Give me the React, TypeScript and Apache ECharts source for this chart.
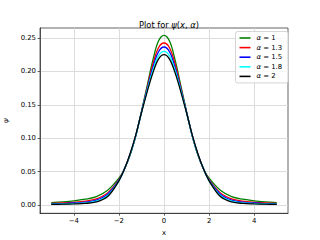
import React, { useEffect, useRef } from "react";
import * as echarts from "echarts";

// x >= 0 half of the symmetric curves
const xHalf = [0, 0.25, 0.5, 0.75, 1, 1.25, 1.5, 1.75, 2, 2.5, 3, 3.5, 4, 4.5, 5];
const alphaLabels = ["1", "1.3", "1.5", "1.8", "2"];
const psiA1 = [0.254, 0.245, 0.216, 0.178, 0.14, 0.104, 0.075, 0.054, 0.04, 0.022, 0.0125, 0.0085, 0.006, 0.0045, 0.0035];
const psiA13 = [0.2425, 0.235, 0.21, 0.175, 0.139, 0.104, 0.076, 0.054, 0.038, 0.018, 0.009, 0.0055, 0.0038, 0.0028, 0.0022];
const psiA15 = [0.2365, 0.229, 0.205, 0.173, 0.139, 0.104, 0.076, 0.054, 0.037, 0.016, 0.0072, 0.0042, 0.0028, 0.002, 0.0015];
const psiA18 = [0.23, 0.223, 0.201, 0.171, 0.138, 0.104, 0.076, 0.054, 0.036, 0.014, 0.0055, 0.003, 0.002, 0.0014, 0.001];
const psiA2 = [0.225, 0.218, 0.197, 0.169, 0.138, 0.105, 0.077, 0.054, 0.036, 0.0125, 0.0045, 0.0022, 0.0015, 0.001, 0.0007];
const xTicks = [-4, -2, 0, 2, 4];
const yTicks = [0, 0.05, 0.1, 0.15, 0.2, 0.25];
const colors = ["#008000", "#ff0000", "#0000ff", "#00ffff", "#000000"];

function fullCurve(vals: number[]): number[][] {
  const pts: number[][] = [];
  for (let i = xHalf.length - 1; i > 0; i--) pts.push([-xHalf[i], vals[i]]);
  for (let i = 0; i < xHalf.length; i++) pts.push([xHalf[i], vals[i]]);
  return pts;
}

const FONT = "DejaVu Sans";

export default function App() {
  const ref = useRef<HTMLDivElement>(null);
  useEffect(() => {
    if (!ref.current) return;
    const chart = echarts.init(ref.current, null, { renderer: "svg" });
    const allVals = [psiA1, psiA13, psiA15, psiA18, psiA2];
    const names = alphaLabels.map((a) => "α = " + a);
    chart.setOption({
      animation: false,
      backgroundColor: "#ffffff",
      textStyle: { fontFamily: FONT },
      title: {
        text: "{n|Plot for }{i|ψ}{n|(}{i|x}{n|, }{i|α}{n|)}",
        left: 164,
        top: 16,
        textAlign: "center",
        textStyle: {
          fontWeight: "normal",
          rich: {
            n: { fontFamily: FONT, fontSize: 8.3, fontWeight: "normal", color: "#000" },
            i: { fontFamily: FONT, fontSize: 8.3, fontWeight: "normal", fontStyle: "italic", color: "#000" },
          },
        },
      },
      legend: {
        orient: "vertical",
        left: 235.5,
        top: 31.5,
        padding: [3, 6, 3, 4],
        itemWidth: 11,
        itemHeight: 1.6,
        itemGap: 2.6,
        icon: "rect",
        borderColor: "#cccccc",
        borderWidth: 0.8,
        borderRadius: 2,
        backgroundColor: "rgba(255,255,255,0.8)",
        data: names,
        formatter: (name: string) => "{i|α}{n| = " + name.split("= ")[1] + "}",
        textStyle: {
          padding: [0, 0, 0, 1],
          rich: {
            n: { fontFamily: FONT, fontSize: 6.9, color: "#000", lineHeight: 7.4 },
            i: { fontFamily: FONT, fontSize: 6.9, fontStyle: "italic", color: "#000", lineHeight: 7.4 },
          },
        },
      },
      grid: {
        left: 40,
        right: 32,
        top: 28,
        bottom: 26.7,
        show: true,
        borderColor: "#222",
        borderWidth: 0.7,
        containLabel: false,
        outerBoundsMode: "none",
      },
      xAxis: {
        type: "value",
        min: -5.5,
        max: 5.5,
        name: "x",
        nameLocation: "middle",
        nameGap: 14,
        nameTextStyle: { fontFamily: FONT, fontSize: 6.9, color: "#000" },
        axisLine: { show: true, onZero: false, lineStyle: { color: "#222", width: 0.7 } },
        axisTick: { show: true, length: 2.4, customValues: xTicks, lineStyle: { color: "#222", width: 0.7 } },
        axisLabel: {
          customValues: xTicks,
          margin: 4,
          fontFamily: FONT,
          fontSize: 6.9,
          color: "#000",
          formatter: (v: number) => String(v).replace("-", "\u2212"),
        },
        splitLine: { show: true, lineStyle: { color: "#d8d8d8", width: 0.9 } },
      },
      yAxis: {
        type: "value",
        min: -0.0126,
        max: 0.265,
        name: "ψ",
        nameLocation: "middle",
        nameGap: 20,
        nameRotate: 90,
        nameTextStyle: { fontFamily: FONT, fontSize: 6.9, color: "#000", fontStyle: "italic" },
        axisLine: { show: true, onZero: false, lineStyle: { color: "#222", width: 0.7 } },
        axisTick: { show: true, length: 2.4, customValues: yTicks, lineStyle: { color: "#222", width: 0.7 } },
        axisLabel: {
          customValues: yTicks,
          margin: 4,
          fontFamily: FONT,
          fontSize: 6.9,
          color: "#000",
          formatter: (v: number) => v.toFixed(2),
        },
        splitLine: { show: true, lineStyle: { color: "#d8d8d8", width: 0.9 } },
      },
      series: allVals.map((vals, i) => ({
        name: names[i],
        type: "line",
        data: fullCurve(vals),
        smooth: 0.35,
        showSymbol: false,
        symbol: "none",
        color: colors[i],
        lineStyle: { color: colors[i], width: 1.3 },
        z: 2 + i,
      })),
    });
    return () => chart.dispose();
  }, []);
  return <div ref={ref} style={{ width: 320, height: 240, position: "absolute", left: 0, top: 0 }} />;
}
